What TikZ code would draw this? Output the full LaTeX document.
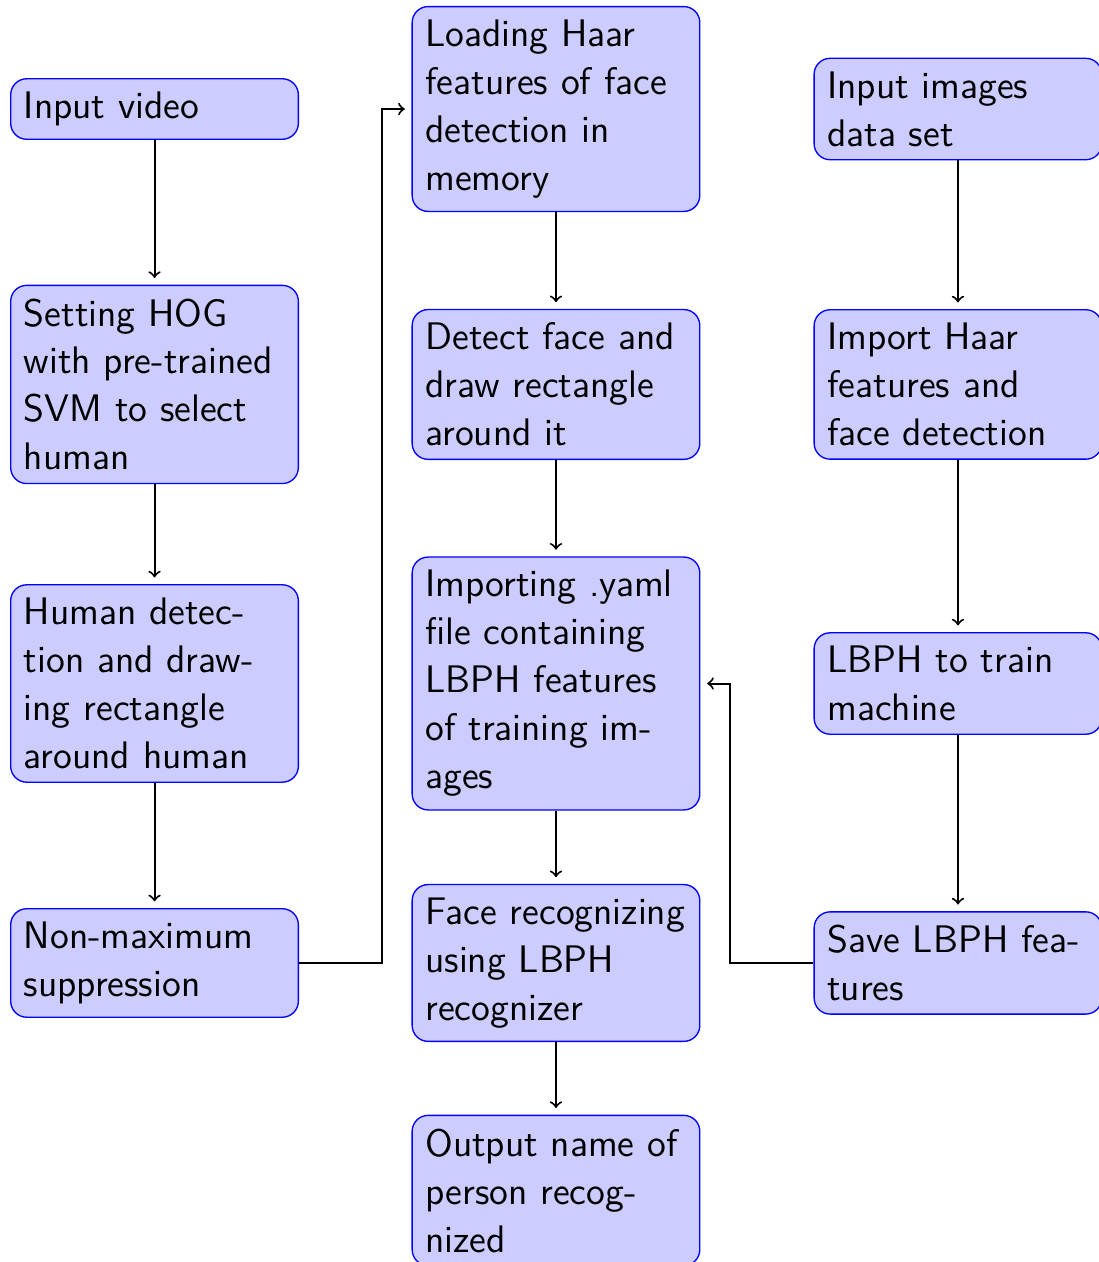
\documentclass[tikz,border=0pt]{standalone}
\usepackage{xcolor}
\usepackage{tikz}
\usetikzlibrary{positioning, shapes, calc, arrows}

\begin{document}
\begin{tikzpicture}[font=\sffamily\Large, line width=0.75pt,
	block/.style={rectangle, draw=blue, line width=0.5pt, fill=blue!20, text width=98pt, align=left, inner sep=4.95pt, rounded corners=6pt},
	line/.style={draw, ->, shorten >=2.5pt}]
	\pgfmathsetmacro{\colA}{2.037}
	\pgfmathsetmacro{\colB}{7.329}
	\pgfmathsetmacro{\colC}{12.628}
	\pgfmathsetmacro{\jog}{1.094}
	\useasboundingbox (0,0) rectangle (14.474,-16.636);
	% left column: human detection
	\node[block] (video) at (\colA,-1.437) {Input video};
	\node[block] (hog) at (\colA,-5.068) {Setting HOG with pre-trained SVM to select human};
	\node[block] (human) at (\colA,-9.01) {Human detection and drawing rectangle around human};
	\node[block] (nms) at (\colA,-12.694) {Non-maximum suppression};
	% middle column: face recognition
	\node[block] (haar) at (\colB,-1.437) {Loading Haar features of face detection in memory};
	\node[block] (detect) at (\colB,-5.068) {Detect face and draw rectangle around it};
	\node[block] (yaml) at (\colB,-9.01) {Importing .yaml file containing LBPH features of training images};
	\node[block] (recog) at (\colB,-12.694) {Face recognizing using LBPH recognizer};
	\node[block] (output) at (\colB,-15.693) {Output name of person recognized};
	% right column: training
	\node[block] (images) at (\colC,-1.437) {Input images data set};
	\node[block] (import) at (\colC,-5.068) {Import Haar features and face detection};
	\node[block] (train) at (\colC,-9.01) {LBPH to train machine};
	\node[block] (save) at (\colC,-12.694) {Save LBPH features};
	\path[line] (video) -- (hog);
	\path[line] (hog) -- (human);
	\path[line] (human) -- (nms);
	\path[line] (nms.east) -- ++(\jog,0) |- (haar.west);
	\path[line] (haar) -- (detect);
	\path[line] (detect) -- (yaml);
	\path[line] (yaml) -- (recog);
	\path[line] (recog) -- (output);
	\path[line] (images) -- (import);
	\path[line] (import) -- (train);
	\path[line] (train) -- (save);
	\path[line] (save.west) -- ++(-\jog,0) |- (yaml.east);
\end{tikzpicture}
\end{document}
